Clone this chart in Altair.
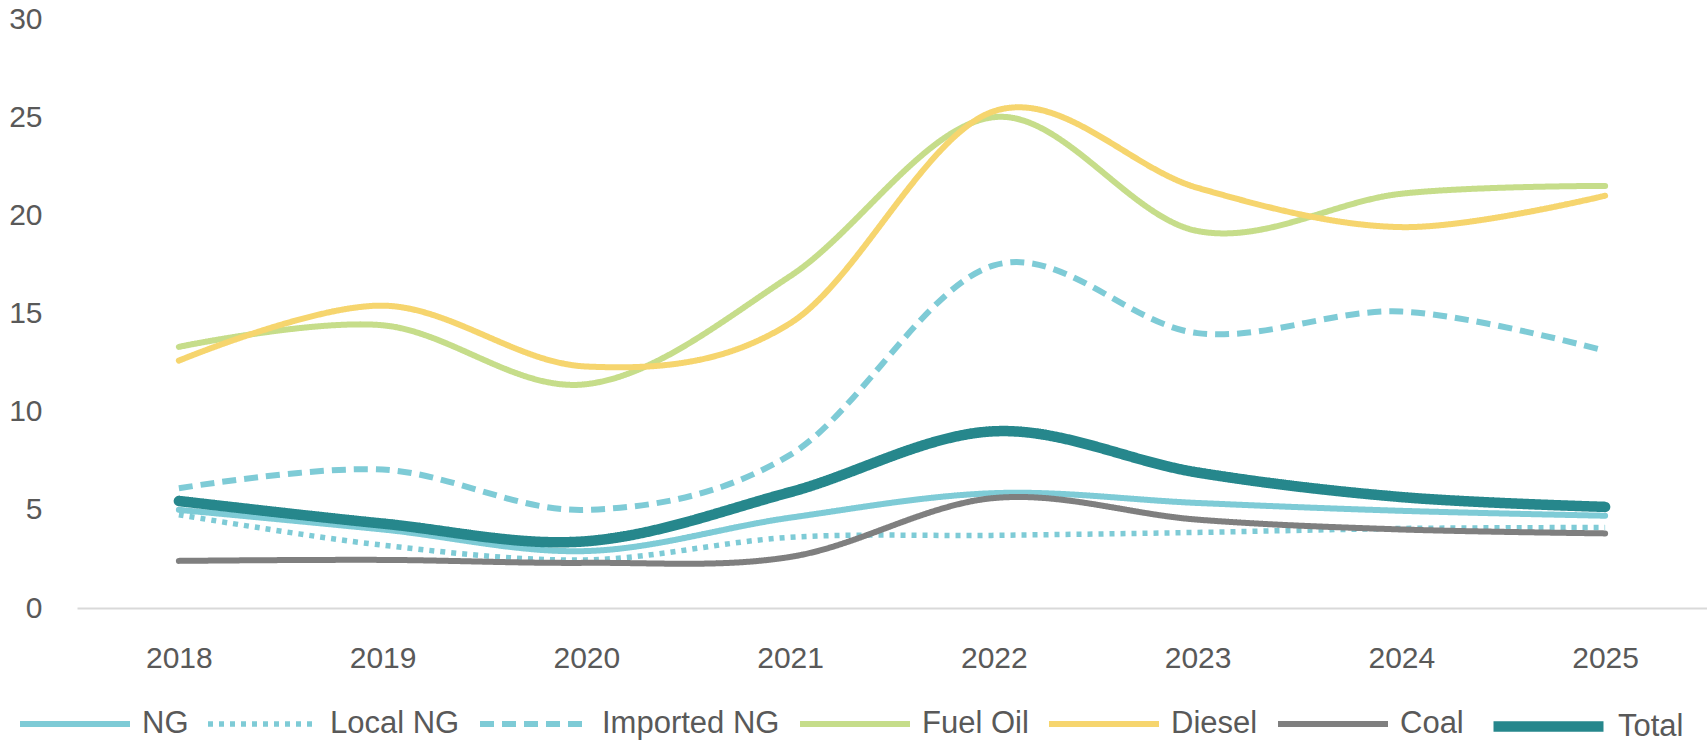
import altair as alt
import pandas as pd

# Categories and series (index values by year)
years = ["2018", "2019", "2020", "2021", "2022", "2023", "2024", "2025"]
series_names = ["NG", "Local NG", "Imported NG", "Fuel Oil", "Diesel", "Coal", "Total"]

ng = [5.0, 4.0, 2.9, 4.6, 5.85, 5.35, 4.95, 4.7]
local_ng = [4.75, 3.2, 2.45, 3.6, 3.7, 3.85, 4.05, 4.1]
imported_ng = [6.1, 7.05, 5.0, 7.8, 17.45, 14.0, 15.1, 13.1]
fuel_oil = [13.3, 14.4, 11.4, 16.9, 25.0, 19.2, 21.1, 21.5]
diesel = [12.6, 15.4, 12.3, 14.5, 25.3, 21.4, 19.4, 21.0]
coal = [2.4, 2.45, 2.3, 2.6, 5.6, 4.5, 4.0, 3.8]
total = [5.45, 4.3, 3.4, 5.9, 9.0, 6.9, 5.65, 5.15]

y_ticks = [0, 5, 10, 15, 20, 25, 30]

# Styling per series
colors = ["#7ECBD6", "#7ECBD6", "#7ECBD6", "#C6DD8A", "#F6D56E", "#7F7F7F", "#26878C"]
dashes = [[1, 0], [5, 6], [14, 8], [1, 0], [1, 0], [1, 0], [1, 0]]
widths = [6, 5.5, 6, 6, 6, 6, 10.5]

values_by_series = [ng, local_ng, imported_ng, fuel_oil, diesel, coal, total]
rows = []
for name, vals in zip(series_names, values_by_series):
    for yr, v in zip(years, vals):
        rows.append({"year": yr, "series": name, "value": v})
df = pd.DataFrame(rows)

text_color = "#595959"
font = "Liberation Sans"

legend = alt.Legend(
    title=None,
    orient="none",
    direction="horizontal",
    legendX=-60,
    legendY=647,
    symbolType="stroke",
    symbolSize=12100,
    labelFontSize=31,
    labelFont=font,
    labelColor=text_color,
    labelOffset=9,
    labelLimit=600,
    columnPadding=8,
    gridAlign="none",
    padding=0,
    symbolOpacity=1,
)

x_enc = alt.X(
    "year:O",
    sort=years,
    scale=alt.Scale(type="point", padding=0.5),
    axis=alt.Axis(
        title=None,
        labelAngle=0,
        labelFontSize=30,
        labelFont=font,
        labelColor=text_color,
        labelPadding=35,
        ticks=False,
        tickSize=0,
        domainColor="#D9D9D9",
        domainWidth=2,
        grid=False,
    ),
)
y_enc = alt.Y(
    "value:Q",
    scale=alt.Scale(domain=[0, 30], nice=False),
    axis=alt.Axis(
        title=None,
        values=y_ticks,
        labelFontSize=30,
        labelFont=font,
        labelColor=text_color,
        labelPadding=35,
        ticks=False,
        tickSize=0,
        domain=False,
        grid=False,
    ),
)
color_enc = alt.Color(
    "series:N", scale=alt.Scale(type="ordinal", domain=series_names, range=colors), legend=legend
)
dash_enc = alt.StrokeDash(
    "series:N", scale=alt.Scale(type="ordinal", domain=series_names, range=dashes), legend=legend
)
width_enc = alt.StrokeWidth(
    "series:N", scale=alt.Scale(type="ordinal", domain=series_names, range=widths), legend=legend
)

base = alt.Chart(df).encode(
    x=x_enc, y=y_enc, color=color_enc, strokeDash=dash_enc, strokeWidth=width_enc
)

# dotted / dashed series underneath, solid series on top with rounded ends
broken = base.mark_line(interpolate="cardinal", strokeCap="butt").transform_filter(
    alt.FieldOneOfPredicate(field="series", oneOf=["Local NG", "Imported NG"])
)
solid = base.mark_line(interpolate="cardinal", strokeCap="round").transform_filter(
    alt.FieldOneOfPredicate(field="series", oneOf=["NG", "Fuel Oil", "Diesel", "Coal", "Total"])
)

chart = (
    alt.layer(broken, solid)
    .properties(
        width=1630,
        height=589,
        background="white",
        autosize=alt.AutoSizeParams(type="none"),
        padding={"left": 77, "top": 19, "right": 0, "bottom": 139},
    )
    .configure_view(strokeWidth=0, stroke=None)
)

chart.save("out.html", embed_options={"renderer": "svg", "actions": False})
